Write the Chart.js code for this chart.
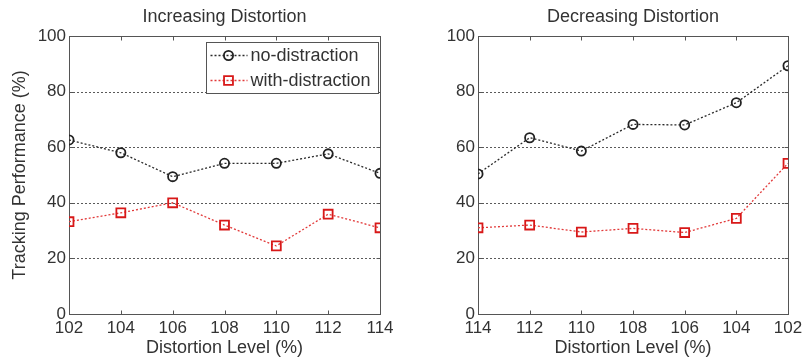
<!DOCTYPE html>
<html>
<head>
<meta charset="utf-8">
<script src="https://cdn.jsdelivr.net/npm/chart.js@4.4.1/dist/chart.umd.min.js"></script>
<style>
  html, body { margin: 0; padding: 0; background: #fff; }
  #wrap { position: relative; width: 807px; height: 362px; overflow: hidden; }
  canvas { position: absolute; top: 0; }
  #left { left: 0; }
  #right { left: 400px; }
</style>
</head>
<body>
<div id="wrap">
  <canvas id="left" width="400" height="362"></canvas>
  <canvas id="right" width="407" height="362"></canvas>
</div>
<script>
// Distortion levels (x) and tracking performance (%) per condition
const incLevels = [102, 104, 106, 108, 110, 112, 114];
const incNoDistraction = [62.6, 58.0, 49.4, 54.2, 54.2, 57.6, 50.6];
const incWithDistraction = [33.2, 36.4, 40.0, 32.0, 24.5, 35.9, 31.0];

const decLevels = [114, 112, 110, 108, 106, 104, 102];
const decNoDistraction = [50.4, 63.4, 58.6, 68.2, 68.0, 76.0, 89.3];
const decWithDistraction = [31.0, 32.0, 29.5, 30.8, 29.3, 34.4, 54.2];

const yTickValues = [0, 20, 40, 60, 80, 100];
const xTickValues = [102, 104, 106, 108, 110, 112, 114];

const seriesNames = ['no-distraction', 'with-distraction'];
const titles = ['Increasing Distortion', 'Decreasing Distortion'];
const xTitle = 'Distortion Level (%)';
const yTitle = 'Tracking Performance (%)';

const TEXT = '#333';
const FONT = 'Liberation Sans, Arial, sans-serif';

function toPoints(xs, ys) {
  return xs.map((x, i) => ({ x: x, y: ys[i] }));
}

function makeDatasets(xs, noD, withD) {
  return [
    {
      label: seriesNames[0],
      data: toPoints(xs, noD),
      borderColor: '#2a2a2a',
      borderWidth: 1.3,
      borderDash: [2, 2],
      pointStyle: 'circle',
      pointRadius: 4.6,
      pointBorderWidth: 1.8,
      pointBorderColor: '#222',
      pointBackgroundColor: 'rgba(0,0,0,0)',
      tension: 0
    },
    {
      label: seriesNames[1],
      data: toPoints(xs, withD),
      borderColor: '#e23a3a',
      borderWidth: 1.3,
      borderDash: [2, 2],
      pointStyle: 'rect',
      pointRadius: 6.3,
      pointBorderWidth: 1.8,
      pointBorderColor: '#d81818',
      pointBackgroundColor: 'rgba(0,0,0,0)',
      tension: 0
    }
  ];
}

// Dotted grid, boxed frame and inward tick marks
const framePlugin = {
  id: 'frame',
  beforeDatasetsDraw(chart) {
    const { ctx, chartArea: a, scales } = chart;
    const x = scales.x, y = scales.y;
    const seg = (x1, y1, x2, y2) => { ctx.beginPath(); ctx.moveTo(x1, y1); ctx.lineTo(x2, y2); ctx.stroke(); };
    ctx.save();
    ctx.lineWidth = 1;
    ctx.strokeStyle = '#5a5a5a';
    ctx.setLineDash([2, 2]);
    yTickValues.forEach(v => {
      if (v === 0 || v === 100) return;
      const py = Math.round(y.getPixelForValue(v)) + 0.5;
      seg(a.left, py, a.right, py);
    });
    ctx.setLineDash([]);
    ctx.strokeStyle = '#555';
    const L = Math.round(a.left) + 0.5, R = Math.round(a.right) + 0.5;
    const T = Math.round(a.top) + 0.5, B = Math.round(a.bottom) + 0.5;
    ctx.strokeRect(L, T, R - L, B - T);
    const tl = 4;
    xTickValues.forEach(v => {
      const px = Math.round(x.getPixelForValue(v)) + 0.5;
      seg(px, B, px, B - tl);
      seg(px, T, px, T + tl);
    });
    yTickValues.forEach(v => {
      const py = Math.round(y.getPixelForValue(v)) + 0.5;
      seg(L, py, L + tl, py);
      seg(R, py, R - tl, py);
    });
    ctx.restore();
  }
};

// Boxed legend inside the upper-right of the plot area
const boxLegendPlugin = {
  id: 'boxLegend',
  afterDatasetsDraw(chart, args, opts) {
    if (!opts || !opts.show) return;
    const { ctx, chartArea: a } = chart;
    const w = 172, h = 51;
    const bx = Math.round(a.right - 2 - w) + 0.5, by = Math.round(a.top + 6) + 0.5;
    ctx.save();
    ctx.fillStyle = '#fff';
    ctx.fillRect(bx, by, w, h);
    ctx.strokeStyle = '#555';
    ctx.lineWidth = 1;
    ctx.strokeRect(bx, by, w, h);
    chart.data.datasets.forEach((ds, i) => {
      const cy = by + 13 + i * 25;
      ctx.strokeStyle = ds.borderColor;
      ctx.lineWidth = ds.borderWidth;
      ctx.setLineDash([2, 2]);
      ctx.beginPath(); ctx.moveTo(bx + 4, cy); ctx.lineTo(bx + 41, cy); ctx.stroke();
      ctx.setLineDash([]);
      ctx.strokeStyle = ds.pointBorderColor;
      ctx.fillStyle = 'rgba(0,0,0,0)';
      ctx.lineWidth = ds.pointBorderWidth;
      Chart.helpers.drawPoint(ctx, {
        pointStyle: ds.pointStyle, radius: ds.pointRadius,
        borderWidth: ds.pointBorderWidth, rotation: 0
      }, bx + 22, cy);
      ctx.fillStyle = TEXT;
      ctx.font = '18px ' + FONT;
      ctx.textAlign = 'left';
      ctx.textBaseline = 'middle';
      ctx.fillText(ds.label, bx + 44, cy + 1);
    });
    ctx.restore();
  }
};

function makeChart(id, xs, noD, withD, opt) {
  return new Chart(document.getElementById(id), {
    type: 'line',
    data: { datasets: makeDatasets(xs, noD, withD) },
    plugins: [framePlugin, boxLegendPlugin],
    options: {
      responsive: false,
      animation: false,
      devicePixelRatio: 1,
      layout: { padding: { left: 0, right: opt.padRight, top: 0, bottom: 0 } },
      plugins: {
        legend: { display: false },
        tooltip: { enabled: false },
        boxLegend: { show: opt.legend },
        title: {
          display: true,
          text: opt.title,
          fullSize: false,
          color: TEXT,
          font: { family: FONT, size: 18, weight: 'normal' },
          padding: { top: 6, bottom: 8.4 }
        }
      },
      scales: {
        x: {
          type: 'linear',
          min: 102, max: 114,
          reverse: opt.reverse,
          grid: { display: false, drawTicks: false },
          border: { display: false },
          afterFit: s => { s.height = 48; },
          afterBuildTicks: s => { s.ticks = xTickValues.map(v => ({ value: v })); },
          ticks: {
            color: TEXT,
            font: { family: FONT, size: 17 },
            padding: 4,
            maxRotation: 0,
            autoSkip: false
          },
          title: {
            display: true,
            text: xTitle,
            color: TEXT,
            font: { family: FONT, size: 18 },
            padding: { top: 0, bottom: 3 }
          }
        },
        y: {
          min: 0, max: 100,
          grid: { display: false, drawTicks: false },
          border: { display: false },
          afterFit: s => { s.width = opt.yWidth; },
          afterBuildTicks: s => { s.ticks = yTickValues.map(v => ({ value: v })); },
          ticks: {
            color: TEXT,
            font: { family: FONT, size: 17 },
            padding: 3
          },
          title: {
            display: opt.yTitle,
            text: yTitle,
            color: TEXT,
            font: { family: FONT, size: 18 },
            padding: { top: 9, bottom: 0 }
          }
        }
      }
    }
  });
}

makeChart('left', incLevels, incNoDistraction, incWithDistraction,
  { title: titles[0], reverse: false, legend: true, yTitle: true, yWidth: 69, padRight: 20 });
makeChart('right', decLevels, decNoDistraction, decWithDistraction,
  { title: titles[1], reverse: true, legend: false, yTitle: false, yWidth: 78, padRight: 19 });
</script>
</body>
</html>
